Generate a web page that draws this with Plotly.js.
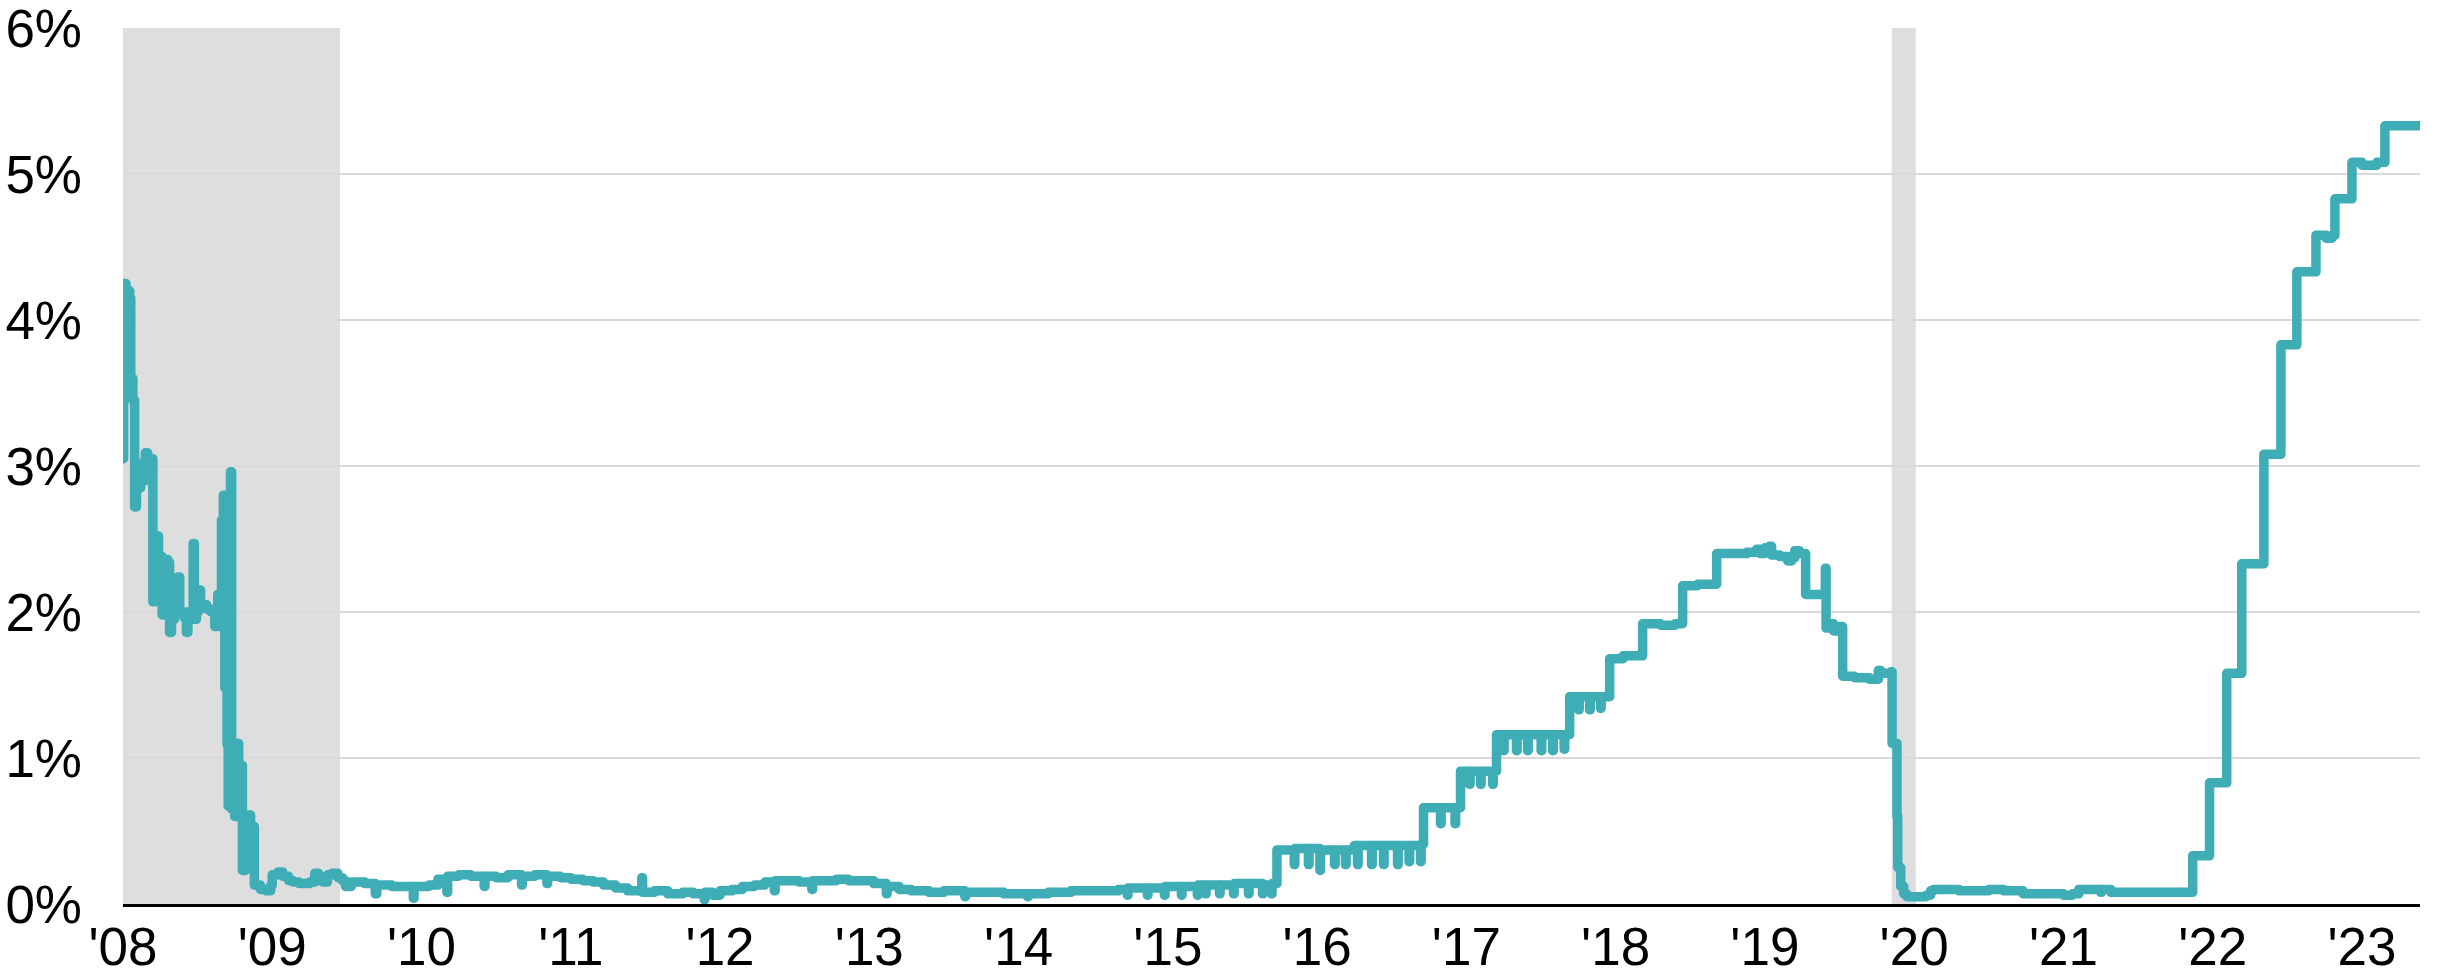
<!DOCTYPE html>
<html><head><meta charset="utf-8">
<script src="https://cdn.plot.ly/plotly-3.0.1.min.js"></script>
<style>
html,body{margin:0;padding:0;background:#fff;}
#chart{width:2441px;height:978px;}
#chart .scatterlayer path.js-line{stroke-linejoin:round;stroke-linecap:round;}
</style>
</head><body><div id="chart"></div>
<script>
// Effective rate (%) by position on the time axis (decimal years as drawn)
const crisisX = [2008.000,2008.004,2008.020,2008.026,2008.030,2008.045,2008.052,2008.058,2008.066,2008.078,2008.090,2008.100,2008.110,2008.118,2008.140,2008.150,2008.165,2008.185,2008.200,2008.215,2008.228,2008.238,2008.250,2008.262,2008.275,2008.300,2008.312,2008.325,2008.345,2008.368,2008.380,2008.410,2008.425,2008.435,2008.470,2008.478,2008.492,2008.505,2008.520,2008.560,2008.590,2008.615,2008.635,2008.650,2008.660,2008.672,2008.682,2008.690,2008.697,2008.705,2008.712,2008.720,2008.728,2008.738,2008.748,2008.760,2008.775,2008.790,2008.800,2008.820,2008.840,2008.855,2008.865,2008.880,2008.920,2008.960,2008.990,2009.000,2009.040,2009.070,2009.110,2009.140,2009.180,2009.250,2009.285,2009.310,2009.340,2009.370,2009.400,2009.440,2009.470,2009.490,2009.530,2009.620,2009.690,2009.700,2009.800];
const crisisY = [3.05,4.25,4.22,3.48,4.20,4.15,3.50,3.60,3.45,2.72,3.02,2.95,2.85,3.00,2.90,3.09,2.95,3.05,2.07,2.10,2.52,2.10,2.38,1.98,2.36,2.34,1.86,1.95,2.00,2.24,2.00,1.96,1.86,2.00,2.47,1.95,2.00,2.15,2.05,2.02,2.00,1.90,2.12,2.10,2.63,2.80,1.48,2.80,1.09,0.67,1.09,2.96,0.65,1.00,0.60,1.10,0.95,0.95,0.23,0.28,0.61,0.35,0.53,0.13,0.10,0.09,0.13,0.20,0.22,0.19,0.16,0.15,0.14,0.15,0.21,0.16,0.15,0.20,0.21,0.18,0.16,0.12,0.15,0.14,0.07,0.13,0.12];

const zeroX = [2009.850,2009.945,2009.950,2010.050,2010.110,2010.170,2010.175,2010.250,2010.330,2010.420,2010.425,2010.500,2010.580,2010.670,2010.675,2010.760,2010.840,2010.845,2010.930,2011.000,2011.080,2011.150,2011.220,2011.300,2011.380,2011.476,2011.481,2011.560,2011.650,2011.750,2011.820,2011.894,2011.899,2011.950,2012.000,2012.080,2012.150,2012.230,2012.300,2012.364,2012.369,2012.450,2012.530,2012.615,2012.620,2012.700,2012.780,2012.860,2012.950,2013.030,2013.114,2013.119,2013.200,2013.280,2013.400,2013.500,2013.640,2013.645,2013.800,2013.900,2014.060,2014.065,2014.200,2014.350,2014.500,2014.670];
const zeroY = [0.12,0.04,0.12,0.13,0.17,0.08,0.19,0.20,0.19,0.12,0.19,0.18,0.20,0.13,0.19,0.20,0.14,0.19,0.18,0.17,0.16,0.15,0.13,0.11,0.09,0.18,0.08,0.09,0.07,0.08,0.07,0.03,0.08,0.06,0.09,0.10,0.12,0.13,0.15,0.09,0.16,0.16,0.15,0.10,0.16,0.16,0.17,0.16,0.16,0.14,0.07,0.12,0.10,0.09,0.08,0.09,0.05,0.08,0.08,0.07,0.05,0.07,0.08,0.09,0.09,0.10];

const hikeX = [2014.729,2014.733,2014.863,2014.867,2014.977,2014.981,2015.091,2015.095,2015.198,2015.202,2015.252,2015.256,2015.346,2015.350,2015.440,2015.444,2015.540,2015.544,2015.634,2015.638,2015.694,2015.698,2015.731,2015.847,2015.851,2015.942,2015.946,2016.019,2016.023,2016.117,2016.121,2016.190,2016.194,2016.250,2016.271,2016.275,2016.365,2016.369,2016.445,2016.449,2016.539,2016.543,2016.616,2016.620,2016.693,2016.697,2016.713,2016.827,2016.831,2016.924,2016.928,2016.961,2017.021,2017.025,2017.095,2017.099,2017.176,2017.180,2017.202,2017.249,2017.253,2017.336,2017.340,2017.410,2017.414,2017.501,2017.505,2017.578,2017.582,2017.655,2017.659,2017.692,2017.752,2017.756,2017.826,2017.830,2017.899,2017.903,2017.960,2018.050,2018.181,2018.300,2018.400,2018.449,2018.550,2018.677];
const hikeY = [0.06,0.11,0.06,0.11,0.06,0.12,0.06,0.12,0.06,0.13,0.07,0.13,0.07,0.13,0.07,0.14,0.07,0.14,0.07,0.13,0.07,0.14,0.37,0.27,0.38,0.27,0.38,0.23,0.37,0.27,0.37,0.27,0.37,0.40,0.27,0.40,0.27,0.40,0.27,0.40,0.27,0.40,0.29,0.40,0.29,0.41,0.66,0.55,0.66,0.55,0.66,0.91,0.82,0.91,0.82,0.91,0.82,0.91,1.16,1.05,1.16,1.05,1.16,1.05,1.16,1.05,1.16,1.05,1.16,1.06,1.16,1.42,1.33,1.42,1.33,1.42,1.34,1.42,1.68,1.70,1.92,1.91,1.92,2.18,2.19,2.40];

const covidX = [2018.800,2018.880,2018.945,2018.970,2019.000,2019.030,2019.045,2019.100,2019.153,2019.180,2019.200,2019.230,2019.273,2019.405,2019.410,2019.440,2019.460,2019.500,2019.521,2019.600,2019.700,2019.760,2019.775,2019.800,2019.845,2019.852,2019.885,2019.890,2019.910,2019.930,2019.950,2020.080,2020.110,2020.130,2020.300,2020.500,2020.600,2020.730,2020.900,2021.000,2021.060,2021.103,2021.200,2021.250,2021.255,2021.318,2021.500];
const covidY = [2.40,2.41,2.43,2.40,2.44,2.45,2.39,2.38,2.35,2.37,2.42,2.40,2.12,2.30,1.89,1.92,1.87,1.90,1.56,1.55,1.54,1.60,1.58,1.58,1.59,1.10,0.60,0.25,0.12,0.07,0.05,0.06,0.09,0.10,0.09,0.10,0.09,0.07,0.07,0.06,0.07,0.10,0.10,0.08,0.10,0.08,0.08];

const tighteningX = [2021.866,2021.979,2022.094,2022.195,2022.343,2022.457,2022.564,2022.692,2022.760,2022.800,2022.819,2022.933,2023.000,2023.100,2023.154,2023.389];
const tighteningY = [0.33,0.83,1.58,2.33,3.08,3.83,4.33,4.58,4.56,4.58,4.83,5.08,5.06,5.08,5.33,5.33];

const recessionStart = [2008.0, 2019.850];
const recessionEnd = [2009.454, 2020.011];

const yearTicks = [2008,2009,2010,2011,2012,2013,2014,2015,2016,2017,2018,2019,2020,2021,2022,2023];
const yearLabels = ["'08","'09","'10","'11","'12","'13","'14","'15","'16","'17","'18","'19","'20","'21","'22","'23"];
const rateTicks = [0,1,2,3,4,5,6];
const rateLabels = ["0%","1%","2%","3%","4%","5%","6%"];

const xs = crisisX.concat(zeroX, hikeX, covidX, tighteningX);
const ys = crisisY.concat(zeroY, hikeY, covidY, tighteningY);

const shapes = recessionStart.map((s, i) => ({
  type: 'rect', xref: 'x', yref: 'paper', x0: s, x1: recessionEnd[i], y0: 0, y1: 1,
  fillcolor: '#dedede', line: {width: 0}, layer: 'below'
}));

const tickFont = {family: '"Liberation Sans Narrow", "Arial Narrow", "Liberation Sans", Arial, sans-serif', size: 53, color: '#000'};

Plotly.newPlot('chart', [{
  x: xs, y: ys, type: 'scatter', mode: 'lines',
  line: {color: '#3eadb5', width: 9.5, shape: 'hv'},
  hoverinfo: 'skip'
}], {
  width: 2441, height: 978,
  margin: {l: 123, r: 21, t: 28, b: 74},
  paper_bgcolor: '#fff', plot_bgcolor: '#fff',
  showlegend: false,
  shapes: shapes,
  xaxis: {
    type: 'linear', range: [2008, 2023.389],
    tickmode: 'array', tickvals: yearTicks, ticktext: yearLabels,
    showgrid: false, zeroline: false,
    showline: true, linecolor: '#000', linewidth: 3,
    ticks: '', tickfont: tickFont, ticklabelstandoff: -6,
    ticklabeloverflow: 'allow'
  },
  yaxis: {
    range: [0, 6],
    tickmode: 'array', tickvals: rateTicks, ticktext: rateLabels,
    showgrid: true, gridcolor: '#d9d9d9', gridwidth: 2,
    zeroline: false, showline: false,
    ticks: '', tickfont: tickFont, ticklabelstandoff: 40,
    ticklabeloverflow: 'allow'
  }
}, {staticPlot: true, displayModeBar: false});
</script>
</body></html>
